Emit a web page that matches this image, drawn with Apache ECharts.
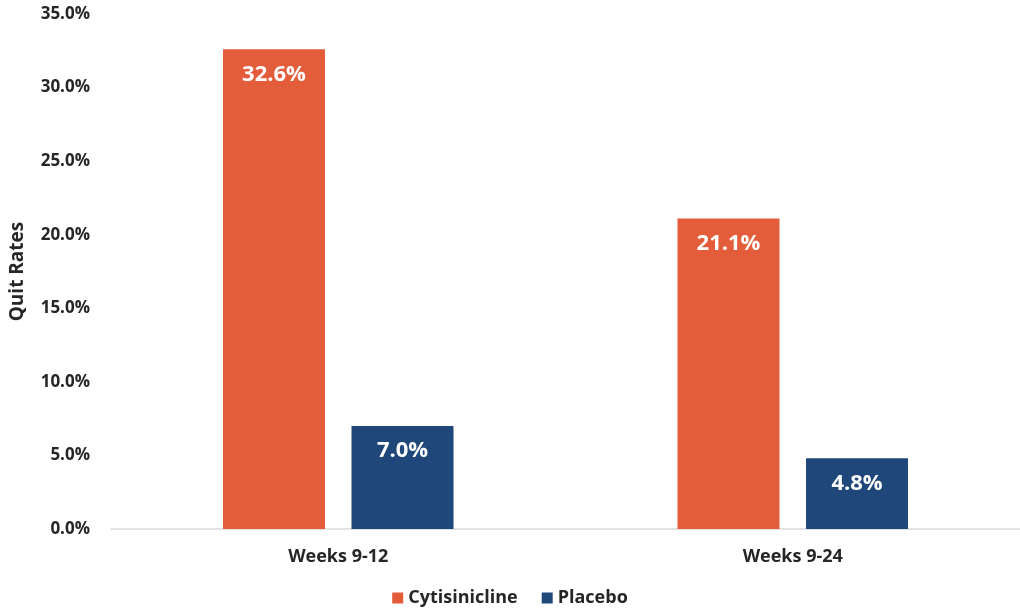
<!DOCTYPE html>
<html>
<head>
<meta charset="utf-8">
<script src="https://cdn.jsdelivr.net/npm/echarts@6/dist/echarts.min.js"></script>
<style>html,body{margin:0;padding:0;background:#fff;}#c{width:1020px;height:612px;}</style>
</head>
<body>
<div id="c"></div>
<script>
const categories = ['Weeks 9-12', 'Weeks 9-24'];
const cytisinicline = [32.6, 21.1];
const placebo = [7.0, 4.8];
const yTicks = { min: 0, max: 35, interval: 5 };

const chart = echarts.init(document.getElementById('c'));
const font = '"Open Sans", "Liberation Sans", sans-serif';
const labelStyle = {
  show: true, position: 'insideTop', distance: 14,
  color: '#fff', fontWeight: 'bold', fontSize: 22, fontFamily: font,
  formatter: p => p.value.toFixed(1) + '%'
};
chart.setOption({
  animation: false,
  backgroundColor: '#fff',
  textStyle: { fontFamily: font },
  grid: { left: 108, right: 0, top: 14, bottom: 83 },
  legend: {
    bottom: 0, left: 'center', itemWidth: 11, itemHeight: 11, itemGap: 24,
    icon: 'rect',
    textStyle: { fontSize: 18, fontWeight: 'bold', color: '#262626', fontFamily: font },
    data: ['Cytisinicline', 'Placebo']
  },
  xAxis: {
    type: 'category', data: categories,
    axisLine: { lineStyle: { color: '#d9d9d9', width: 1.5 } },
    axisTick: { show: false },
    axisLabel: { fontSize: 18, fontWeight: 'bold', color: '#262626', margin: 19, fontFamily: font }
  },
  yAxis: {
    type: 'value', min: yTicks.min, max: yTicks.max, interval: yTicks.interval,
    name: 'Quit Rates', nameLocation: 'middle', nameGap: 84, nameRotate: 90,
    nameTextStyle: { fontSize: 19, fontWeight: 'bold', color: '#262626', fontFamily: font },
    splitLine: { show: false },
    axisLine: { show: false },
    axisTick: { show: false },
    axisLabel: { fontSize: 17, fontWeight: 'bold', color: '#262626', margin: 21, fontFamily: font,
      formatter: v => v.toFixed(1) + '%' }
  },
  series: [
    { name: 'Cytisinicline', type: 'bar', data: cytisinicline, barWidth: 102, barGap: '26%',
      itemStyle: { color: '#E35D3A' }, label: labelStyle },
    { name: 'Placebo', type: 'bar', data: placebo, barWidth: 102,
      itemStyle: { color: '#1F477A' }, label: labelStyle }
  ]
});
</script>
</body>
</html>
